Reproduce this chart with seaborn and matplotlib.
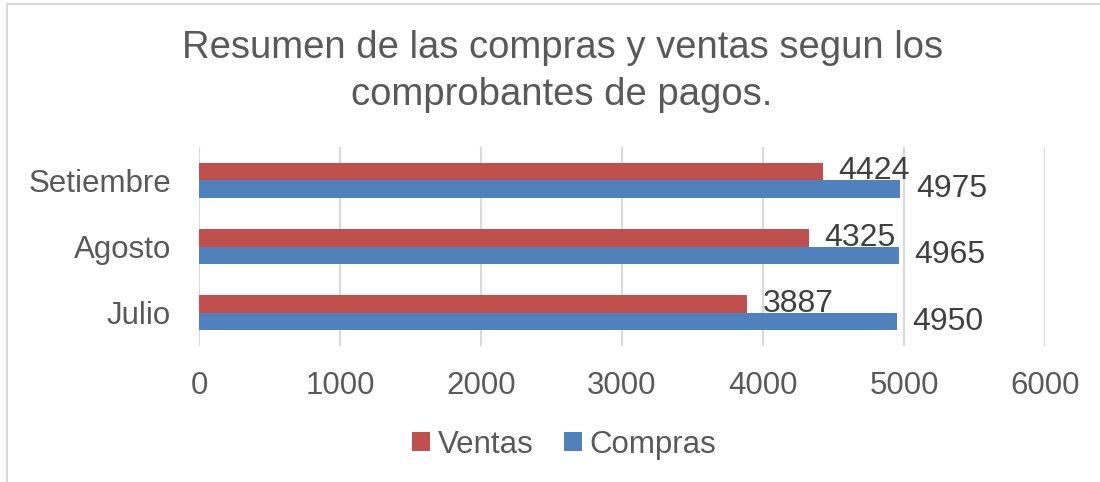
import pandas as pd
import matplotlib.pyplot as plt
from matplotlib.patches import Rectangle
import seaborn as sns

meses = ['Setiembre', 'Agosto', 'Julio']
ventas = [4424, 4325, 3887]
compras = [4975, 4965, 4950]
series = ['Ventas', 'Compras']
ticks = [0, 1000, 2000, 3000, 4000, 5000, 6000]

df = pd.DataFrame({
    'mes': meses * 2,
    'serie': ['Ventas'] * len(meses) + ['Compras'] * len(meses),
    'valor': ventas + compras,
})

sns.set_style('white')
plt.rcParams['font.family'] = ['Liberation Sans', 'DejaVu Sans']
txt = '#595959'

fig = plt.figure(figsize=(11, 4.82), dpi=100)
ax = fig.add_axes([0.1809, 0.282, 0.7691, 0.413])

sns.barplot(data=df, x='valor', y='mes', hue='serie', order=meses,
            hue_order=series, palette=['#C0504D', '#4F81BD'],
            orient='h', width=0.53, gap=0, saturation=1,
            edgecolor='none', ax=ax, legend=True)

for cont in ax.containers:
    ax.bar_label(cont, padding=11, fontsize=23, color='#404040')

ax.set_xlim(0, 6000)
ax.set_xticks(ticks)
ax.set_xlabel('')
ax.set_ylabel('')
ax.xaxis.grid(True, color='#D9D9D9', linewidth=1.5)
ax.set_axisbelow(True)
for s in ax.spines.values():
    s.set_visible(False)
ax.tick_params(axis='x', length=0, pad=18, labelsize=22.5, labelcolor=txt)
ax.tick_params(axis='y', length=0, pad=20, labelsize=22.5, labelcolor=txt)

handles, labels = ax.get_legend_handles_labels()
ax.get_legend().remove()
fig.legend(handles, labels, loc='center', bbox_to_anchor=(0.513, 0.077),
           ncol=2, frameon=False, fontsize=22.5, handlelength=0.55,
           handleheight=0.55, handletextpad=0.25, columnspacing=1.0,
           labelcolor=txt)

fig.text(0.511, 0.851, 'Resumen de las compras y ventas segun los\ncomprobantes de pagos.',
         ha='center', va='center', fontsize=27.5, color=txt, linespacing=1.4)

fig.patches.append(Rectangle((7 / 1100, -0.1), 1.2, 1 - 4 / 482 + 0.1,
                             transform=fig.transFigure, fill=False,
                             edgecolor='#D9D9D9', linewidth=1.5))

fig.savefig('out.png', dpi=100)
